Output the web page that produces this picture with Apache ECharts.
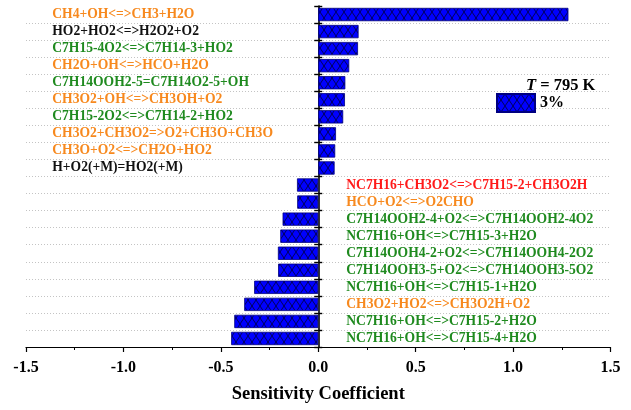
<!DOCTYPE html>
<html>
<head>
<meta charset="utf-8">
<script src="https://cdn.jsdelivr.net/npm/echarts@6/dist/echarts.min.js"></script>
<style>
  html, body { margin: 0; padding: 0; background: #fff; }
  #chart { width: 631px; height: 410px; }
</style>
</head>
<body>
<div id="chart"></div>
<script>
// Reactions, top to bottom
const reactions = [
  'CH4+OH<=>CH3+H2O',
  'HO2+HO2<=>H2O2+O2',
  'C7H15-4O2<=>C7H14-3+HO2',
  'CH2O+OH<=>HCO+H2O',
  'C7H14OOH2-5=C7H14O2-5+OH',
  'CH3O2+OH<=>CH3OH+O2',
  'C7H15-2O2<=>C7H14-2+HO2',
  'CH3O2+CH3O2=>O2+CH3O+CH3O',
  'CH3O+O2<=>CH2O+HO2',
  'H+O2(+M)=HO2(+M)',
  'NC7H16+CH3O2<=>C7H15-2+CH3O2H',
  'HCO+O2<=>O2CHO',
  'C7H14OOH2-4+O2<=>C7H14OOH2-4O2',
  'NC7H16+OH<=>C7H15-3+H2O',
  'C7H14OOH4-2+O2<=>C7H14OOH4-2O2',
  'C7H14OOH3-5+O2<=>C7H14OOH3-5O2',
  'NC7H16+OH<=>C7H15-1+H2O',
  'CH3O2+HO2<=>CH3O2H+O2',
  'NC7H16+OH<=>C7H15-2+H2O',
  'NC7H16+OH<=>C7H15-4+H2O'
];

// Sensitivity coefficients (3% case, T = 795 K)
const sensitivity = [
  1.284, 0.207, 0.204, 0.159, 0.139, 0.137, 0.128, 0.091, 0.087, 0.084,
  -0.109, -0.108, -0.183, -0.195, -0.207, -0.206, -0.329, -0.380, -0.431, -0.447
];

// Sub-mechanism each reaction belongs to
const subMechanism = [
  'C1', 'H2O2', 'C7', 'C1', 'C7', 'C1', 'C7', 'C1', 'C1', 'H2O2',
  'cross', 'C1', 'C7', 'C7', 'C7', 'C7', 'C7', 'C1', 'C7', 'C7'
];

const xTicks = [-1.5, -1.0, -0.5, 0.0, 0.5, 1.0, 1.5];
const seriesName = '3%';
const tempLabel = '795 K';

const mechColor = { C1: '#f7891e', H2O2: '#111111', C7: '#1f8a1f', cross: '#ff1a1a' };
const FONT = '"Liberation Serif", "Times New Roman", serif';

// Layout of the plotting area
const GRID_LEFT = 26, GRID_RIGHT = 20.5;
const CHART_W = 631;
const plotW = CHART_W - GRID_LEFT - GRID_RIGHT;
// shift that moves a side axis onto x = 0
const zeroShift = -plotW * (0 - xTicks[0]) / (xTicks[xTicks.length - 1] - xTicks[0]);

// Blue fill with black cross-hatching
function hatchPattern() {
  const c = document.createElement('canvas');
  c.width = 8; c.height = 12;
  const g = c.getContext('2d');
  g.fillStyle = '#0000ff';
  g.fillRect(0, 0, 8, 12);
  g.strokeStyle = '#000033';
  g.lineWidth = 0.8;
  g.beginPath();
  g.moveTo(0, 0); g.lineTo(8, 12);
  g.moveTo(8, 0); g.lineTo(0, 12);
  g.stroke();
  return { image: c, repeat: 'repeat' };
}
const hatch = hatchPattern();

// one rich style per sub-mechanism, left-aligned inside a fixed-width box
function richStyles(boxWidth) {
  const r = {};
  Object.keys(mechColor).forEach(k => {
    r[k] = {
      fontFamily: FONT, fontWeight: 'bold', fontSize: 13.6,
      color: mechColor[k], width: boxWidth, align: 'left'
    };
  });
  return r;
}

const chart = echarts.init(document.getElementById('chart'), null, { renderer: 'canvas' });
chart.setOption({
  animation: false,
  backgroundColor: '#ffffff',
  title: {
    text: '{i|T} = ' + tempLabel,
    left: 521,
    top: 72,
    textStyle: {
      fontFamily: FONT, fontWeight: 'bold', fontSize: 16.5, color: '#000',
      rich: { i: { fontFamily: FONT, fontStyle: 'italic', fontWeight: 'bold', fontSize: 16.5, color: '#000' } }
    }
  },
  legend: {
    data: [seriesName],
    left: 491,
    top: 88,
    icon: 'rect',
    itemWidth: 38,
    itemHeight: 18,
    textStyle: { fontFamily: FONT, fontWeight: 'bold', fontSize: 16, color: '#000' }
  },
  grid: {
    left: GRID_LEFT, right: GRID_RIGHT, top: 6, bottom: 63,
    containLabel: false, outerBoundsMode: 'none'
  },
  xAxis: {
    type: 'value',
    min: xTicks[0],
    max: xTicks[xTicks.length - 1],
    interval: 0.5,
    axisLine: { show: true, onZero: false, lineStyle: { color: '#000', width: 1.2 } },
    axisTick: { show: true, length: 5, lineStyle: { color: '#000', width: 1.2 } },
    minorTick: { show: true, splitNumber: 2, length: 3, lineStyle: { color: '#000', width: 1 } },
    splitLine: { show: false },
    axisLabel: {
      margin: 13,
      fontFamily: FONT, fontWeight: 'bold', fontSize: 16, color: '#000',
      formatter: v => v.toFixed(1)
    },
    name: 'Sensitivity Coefficient',
    nameLocation: 'middle',
    nameGap: 38,
    nameTextStyle: { fontFamily: FONT, fontWeight: 'bold', fontSize: 18.5, color: '#000' }
  },
  yAxis: [
    {
      type: 'category',
      data: reactions,
      inverse: true,
      position: 'left',
      offset: zeroShift,
      axisLine: { show: true, onZero: false, lineStyle: { color: '#000', width: 1.6 } },
      axisTick: { show: true, length: 4, lineStyle: { color: '#000', width: 1.4 } },
      splitLine: {
        show: true,
        interval: (i) => i !== 0,
        lineStyle: { color: '#c4c4c4', type: [1, 2], width: 1 }
      },
      axisLabel: {
        margin: 8,
        interval: 0,
        formatter: (v, i) => (sensitivity[i] > 0 ? '{' + subMechanism[i] + '|' + v + '}' : ''),
        rich: richStyles(258)
      }
    },
    {
      type: 'category',
      data: reactions,
      inverse: true,
      position: 'right',
      offset: zeroShift,
      axisLine: { show: false, onZero: false },
      axisTick: { show: true, length: 4, lineStyle: { color: '#000', width: 1.4 } },
      splitLine: { show: false },
      axisLabel: {
        margin: 28,
        interval: 0,
        formatter: (v, i) => (sensitivity[i] < 0 ? '{' + subMechanism[i] + '|' + v + '}' : ''),
        rich: richStyles(255)
      }
    }
  ],
  series: [
    {
      name: seriesName,
      type: 'bar',
      yAxisIndex: 0,
      data: sensitivity,
      barCategoryGap: '22%',
      itemStyle: { color: hatch, borderColor: '#000080', borderWidth: 0.8 }
    }
  ]
});
</script>
</body>
</html>
